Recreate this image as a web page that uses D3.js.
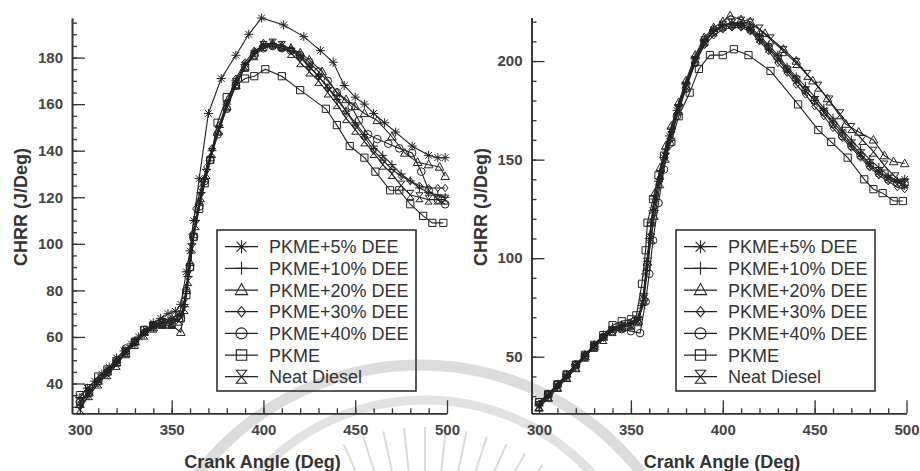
<!DOCTYPE html>
<html lang="en">
<head>
<meta charset="UTF-8">
<title>CHRR vs Crank Angle</title>
<script src="https://d3js.org/d3.v7.min.js"></script>
<style>
  body { margin: 0; background: #fff; }
  svg { display: block; font-family: "Liberation Sans", Arial, sans-serif; }
</style>
</head>
<body>
<script>
// legend / marker info
var seriesNames = ["PKME+5% DEE", "PKME+10% DEE", "PKME+20% DEE", "PKME+30% DEE", "PKME+40% DEE", "PKME", "Neat Diesel"];
var markerTypes = ["asterisk", "plus", "triangle", "diamond", "circle", "square", "hourglass"];

// tick labels
var angleTicks = [300, 350, 400, 450, 500];
var leftYTicks = [40, 60, 80, 100, 120, 140, 160, 180];
var rightYTicks = [50, 100, 150, 200];

// left chart: [crank angle, CHRR]
var leftPkme5 = [[300,34],[304,38],[308,41],[312,44],[316,47],[320,51],[324,54],[328,57],[332,60],[336,63],[340,66],[344,68],[348,70],[352,71],[355,74],[358,88],[360,97],[362,110],[365,128],[370,156],[377,171],[385,181],[392,190],[399,197],[411,194],[422,189],[431,183],[438,178],[444,168],[450,163],[455,160],[460,156],[466,152],[472,148],[481,142],[490,138],[495,137],[499,137]];
var leftPkme10 = [[300,32],[305,37],[310,42],[315,45],[320,49],[325,53],[330,57],[335,61],[340,64],[345,66],[350,67],[354,69],[357,73],[359,86],[361,100],[363,110],[366,122],[369,132],[372,140],[376,150],[380,160],[385,170],[390,177],[395,182],[400,185],[405,186],[410,185],[415,184],[420,181],[425,176],[430,172],[435,167],[440,162],[445,157],[450,152],[455,147],[460,142],[465,138],[470,134],[475,130],[480,127],[485,124],[490,122],[495,121],[499,120]];
var leftPkme20 = [[300,31],[305,36],[310,41],[315,45],[320,49],[325,53],[330,58],[335,62],[340,64],[345,65],[350,65],[355,62],[358,80],[360,92],[362,104],[365,118],[368,128],[371,137],[375,148],[380,159],[385,168],[390,176],[395,182],[400,186],[405,186],[410,185],[415,184],[420,182],[425,179],[432,174],[440,165],[445,162],[450,159],[455,156],[462,153],[470,146],[477,139],[484,135],[490,134],[496,133],[499,129]];
var leftPkme30 = [[300,30],[305,35],[310,40],[315,44],[320,49],[325,54],[330,58],[335,62],[340,65],[345,67],[350,68],[354,70],[357,76],[359,88],[361,104],[363,115],[366,124],[369,133],[372,141],[376,151],[380,161],[385,171],[390,178],[395,183],[400,185],[405,185],[410,184],[415,183],[420,180],[425,176],[430,172],[435,167],[440,163],[445,157],[450,151],[455,146],[460,140],[465,136],[470,132],[475,129],[480,127],[485,125],[490,124],[495,124],[499,124]];
var leftPkme40 = [[300,32],[305,36],[310,41],[315,45],[320,50],[325,55],[330,58],[335,63],[340,65],[345,66],[350,67],[355,68],[358,80],[360,90],[362,103],[365,116],[368,127],[371,136],[375,147],[380,158],[385,168],[390,176],[395,181],[400,184],[405,185],[410,184],[415,183],[420,181],[425,178],[430,174],[435,170],[440,165],[448,159],[452,153],[457,147],[462,145],[468,143],[474,141],[481,139],[486,131],[490,123],[495,119],[499,117]];
var leftPkme = [[300,35],[305,38],[310,43],[315,46],[320,49],[325,54],[330,58],[335,63],[340,65],[345,66],[350,66],[355,68],[358,78],[360,90],[362,103],[365,115],[368,126],[371,136],[375,152],[380,163],[385,168],[390,171],[395,172],[401,175],[410,172],[420,166],[434,158],[440,151],[447,142],[455,137],[461,131],[469,123],[474,123],[480,117],[487,112],[492,109],[498,109]];
var leftNeat = [[300,29],[305,35],[310,40],[315,44],[320,48],[325,53],[330,57],[335,61],[340,64],[345,66],[350,66],[354,67],[357,72],[359,84],[361,98],[363,108],[366,120],[369,130],[372,139],[376,149],[380,159],[385,169],[390,176],[395,181],[400,185],[405,186],[410,185],[415,182],[420,178],[425,174],[430,170],[435,165],[440,160],[445,154],[450,149],[455,144],[460,139],[465,134],[470,130],[475,125],[480,121],[485,120],[490,119],[495,119],[499,119]];

// right chart
var rightPkme5 = [[300,25],[305,30],[310,35],[315,40],[320,45],[325,50],[330,55],[335,60],[340,64],[345,66],[350,67],[354,69],[356,76],[358,92],[360,110],[362,124],[365,139],[368,151],[371,162],[375,175],[380,188],[385,201],[390,210],[395,215],[400,218],[405,219],[410,218],[415,216],[420,211],[425,206],[430,201],[435,195],[440,190],[445,185],[450,180],[455,175],[460,169],[465,164],[470,158],[475,153],[480,148],[485,144],[490,141],[495,139],[499,140]];
var rightPkme10 = [[300,26],[305,31],[310,36],[315,41],[320,46],[325,51],[330,56],[335,61],[340,65],[345,66],[350,67],[354,70],[357,82],[359,100],[361,118],[363,130],[366,144],[369,155],[372,166],[376,178],[380,189],[385,202],[390,211],[395,216],[400,218],[405,219],[410,219],[415,217],[420,213],[425,208],[430,203],[435,197],[440,192],[445,187],[450,182],[455,176],[460,171],[465,165],[470,160],[475,155],[480,150],[485,146],[490,142],[495,139],[499,137]];
var rightPkme20 = [[300,24],[305,29],[310,34],[315,39],[320,44],[325,50],[330,55],[335,60],[340,64],[345,65],[350,66],[354,68],[357,80],[359,98],[361,118],[363,133],[366,146],[369,157],[372,167],[376,179],[380,190],[385,203],[390,212],[395,217],[400,220],[404,223],[410,221],[415,220],[423,214],[433,206],[440,200],[449,190],[457,181],[467,168],[474,164],[482,160],[488,152],[493,149],[499,148]];
var rightPkme30 = [[300,26],[305,31],[310,35],[315,40],[320,46],[325,51],[330,56],[335,60],[340,64],[345,65],[350,66],[354,68],[357,78],[359,95],[361,112],[363,126],[366,141],[369,153],[372,164],[376,176],[380,187],[385,199],[390,208],[395,213],[400,216],[405,217],[410,217],[415,215],[420,210],[425,205],[430,199],[435,194],[440,188],[445,183],[450,177],[455,172],[460,166],[465,161],[470,156],[475,151],[480,146],[485,142],[490,139],[495,136],[499,135]];
var rightPkme40 = [[300,27],[305,31],[310,36],[315,41],[320,46],[325,50],[330,55],[335,60],[340,63],[345,64],[350,63],[355,62],[358,78],[360,92],[362,109],[365,128],[368,145],[371,158],[375,172],[380,186],[385,199],[390,209],[395,215],[400,217],[405,218],[410,218],[415,216],[420,212],[425,207],[430,202],[435,196],[440,191],[445,185],[450,180],[455,174],[460,168],[465,162],[470,157],[475,152],[480,147],[485,143],[490,140],[495,138],[499,138]];
var rightPkme = [[300,27],[305,31],[310,36],[315,41],[320,46],[325,51],[330,56],[335,61],[340,66],[345,68],[350,69],[353,71],[356,87],[358,104],[359,118],[362,130],[365,142],[368,152],[372,159],[376,172],[382,184],[387,196],[393,203],[400,203],[406,206],[414,203],[426,195],[441,178],[452,165],[459,159],[468,151],[477,140],[482,135],[487,133],[493,129],[498,129]];
var rightNeat = [[300,25],[305,30],[310,35],[315,40],[320,45],[325,50],[330,55],[335,59],[340,63],[345,65],[350,66],[354,68],[357,79],[359,96],[361,110],[363,122],[366,138],[369,151],[372,162],[376,175],[380,187],[385,200],[390,210],[395,215],[400,218],[405,219],[410,220],[415,219],[420,216],[426,211],[433,205],[440,199],[446,193],[452,187],[458,180],[464,173],[470,166],[476,160],[482,154],[488,147],[494,141],[499,138]];

var w = 920, h = 471;
var ink = "#222";

var svg = d3.select("body").append("svg")
    .attr("width", w)
    .attr("height", h)
    .style("background", "#fff");

// faint watermark behind everything
var wm = svg.append("g").attr("fill", "none");
wm.append("circle").attr("cx", 420).attr("cy", 646).attr("r", 281)
    .attr("stroke", "#dcdcdc").attr("stroke-width", 11);
wm.append("circle").attr("cx", 425).attr("cy", 627).attr("r", 227)
    .attr("stroke", "#e2e2e2").attr("stroke-width", 9);
d3.range(-24, 37, 6).forEach(function(a) {
    var t = a * Math.PI / 180;
    wm.append("line")
        .attr("x1", 425 + 150 * Math.sin(t)).attr("y1", 627 - 150 * Math.cos(t))
        .attr("x2", 425 + 200 * Math.sin(t)).attr("y2", 627 - 200 * Math.cos(t))
        .attr("stroke", "#dadada").attr("stroke-width", 2);
});

function markerPath(type, r) {
    var a = r * 0.75;
    switch (type) {
        case "asterisk":
            return "M0," + (-r) + "L0," + r + "M" + (-r) + ",0L" + r + ",0" +
                   "M" + (-a) + "," + (-a) + "L" + a + "," + a + "M" + (-a) + "," + a + "L" + a + "," + (-a);
        case "plus":
            return "M0," + (-r) + "L0," + r + "M" + (-r) + ",0L" + r + ",0";
        case "triangle":
            return "M0," + (-r) + "L" + (r * 0.95) + "," + (r * 0.7) + "L" + (-r * 0.95) + "," + (r * 0.7) + "Z";
        case "diamond":
            return "M0," + (-r * 0.8) + "L" + (r * 0.65) + ",0L0," + (r * 0.8) + "L" + (-r * 0.65) + ",0Z";
        case "circle":
            var c = r * 0.85;
            return "M" + c + ",0A" + c + "," + c + " 0 1 1 " + (-c) + ",0A" + c + "," + c + " 0 1 1 " + c + ",0Z";
        case "square":
            var s = r * 0.8;
            return "M" + (-s) + "," + (-s) + "H" + s + "V" + s + "H" + (-s) + "Z";
        case "hourglass":
            var q = r * 0.8;
            return "M" + (-q) + "," + (-r) + "L" + q + "," + (-r) + "L" + (-q) + "," + r + "L" + q + "," + r + "Z";
    }
}

function drawPanel(p) {
    var g = svg.append("g");
    var x = d3.scaleLinear().domain(p.xDomain).range(p.xRange);
    var y = d3.scaleLinear().domain(p.yDomain).range(p.yRange);

    // minor ticks
    g.append("g").attr("transform", "translate(0," + p.yRange[0] + ")")
        .call(d3.axisBottom(x).tickValues(d3.range(310, 500, 10)).tickSize(-5).tickSizeOuter(0).tickFormat(""));
    g.append("g").attr("transform", "translate(" + p.xRange[0] + ",0)")
        .call(d3.axisLeft(y).tickValues(p.yMinor).tickSize(-5).tickSizeOuter(0).tickFormat(""));

    // major ticks and labels
    var xa = g.append("g").attr("transform", "translate(0," + p.yRange[0] + ")")
        .call(d3.axisBottom(x).tickValues(angleTicks).tickSize(-13).tickSizeOuter(0).tickPadding(11));
    var ya = g.append("g").attr("transform", "translate(" + p.xRange[0] + ",0)")
        .call(d3.axisLeft(y).tickValues(p.yMajor).tickSize(-13).tickSizeOuter(0).tickPadding(9));

    g.selectAll(".domain").attr("stroke", "#333").attr("stroke-width", 1.6);
    g.selectAll(".tick line").attr("stroke", "#333").attr("stroke-width", 1.3);
    g.selectAll(".tick text")
        .attr("font-family", "Liberation Sans, Arial, sans-serif")
        .attr("font-size", 15).attr("font-weight", "bold").attr("fill", "#444");

    // axis titles
    g.append("text")
        .attr("x", (p.xRange[0] + p.xRange[1]) / 2 + 3).attr("y", 468)
        .attr("text-anchor", "middle").attr("font-size", 18).attr("font-weight", "bold").attr("fill", "#333")
        .text("Crank Angle (Deg)");
    g.append("text")
        .attr("transform", "translate(" + (p.xRange[0] - 45) + ",207) rotate(-90)")
        .attr("text-anchor", "middle").attr("font-size", 18).attr("font-weight", "bold").attr("fill", "#333")
        .text("CHRR (J/Deg)");

    // lines and markers
    var line = d3.line().x(function(d) { return x(d[0]); }).y(function(d) { return y(d[1]); });
    p.series.forEach(function(s, i) {
        g.append("path").datum(s)
            .attr("d", line).attr("fill", "none")
            .attr("stroke", ink).attr("stroke-width", 1.1);
        g.append("g").selectAll("path").data(s).join("path")
            .attr("transform", function(d) { return "translate(" + x(d[0]) + "," + y(d[1]) + ")"; })
            .attr("d", markerPath(markerTypes[i], 4.5))
            .attr("fill", "none").attr("stroke", ink).attr("stroke-width", 1);
    });

    // legend
    var lg = g.append("g").attr("transform", "translate(" + p.legendX + ",230)");
    lg.append("rect").attr("width", 199).attr("height", 161)
        .attr("fill", "none").attr("stroke", "#333").attr("stroke-width", 1.6);
    seriesNames.forEach(function(name, i) {
        var ry = 16.7 + i * 21.67;
        lg.append("line").attr("x1", 8).attr("x2", 41).attr("y1", ry).attr("y2", ry)
            .attr("stroke", ink).attr("stroke-width", 1.2);
        lg.append("path").attr("transform", "translate(24.5," + ry + ")")
            .attr("d", markerPath(markerTypes[i], 6.5))
            .attr("fill", "none").attr("stroke", ink).attr("stroke-width", 1.1);
        lg.append("text").attr("x", 52).attr("y", ry).attr("dy", "0.36em")
            .attr("font-size", 18).attr("fill", "#333").text(name);
    });
}

drawPanel({
    series: [leftPkme5, leftPkme10, leftPkme20, leftPkme30, leftPkme40, leftPkme, leftNeat],
    xDomain: [295.7, 500], xRange: [72, 447],
    yDomain: [27.2, 197], yRange: [413.3, 18],
    yMajor: leftYTicks, yMinor: d3.range(30, 196, 5),
    legendX: 217
});

drawPanel({
    series: [rightPkme5, rightPkme10, rightPkme20, rightPkme30, rightPkme40, rightPkme, rightNeat],
    xDomain: [295.9, 500], xRange: [531.5, 906.5],
    yDomain: [21.3, 222.1], yRange: [413.3, 17.5],
    yMajor: rightYTicks, yMinor: d3.range(30, 221, 10),
    legendX: 676
});
</script>
</body>
</html>
